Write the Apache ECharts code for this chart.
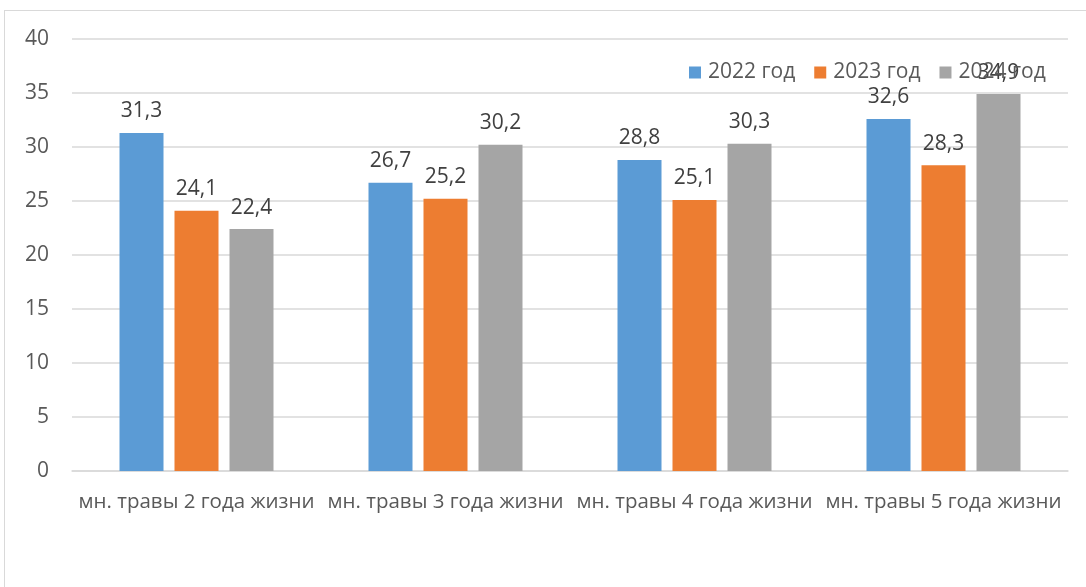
<!DOCTYPE html>
<html lang="ru">
<head>
    <meta charset="UTF-8">
    <title>Chart</title>
    <style>
        * {
            margin: 0;
            padding: 0;
        }

        html, body {
            width: 100%;
            height: 100%;
            background: #fff;
            overflow: hidden;
        }

        .frame {
            position: absolute;
            left: 4px;
            top: 10px;
            width: 1200px;
            height: 700px;
            border: 1px solid #d9d9d9;
        }

        #chart {
            position: absolute;
            left: 0;
            top: 0;
            width: 1086px;
            height: 587px;
        }
    </style>
    <script src="https://cdnjs.cloudflare.com/ajax/libs/echarts/6.0.0/echarts.min.js"></script>
</head>
<body>
<div class="frame"></div>
<div id="chart"></div>

<script>
    const categories = ["мн. травы 2 года жизни", "мн. травы 3 года жизни", "мн. травы 4 года жизни", "мн. травы 5 года жизни"]
    const seriesNames = ["2022 год", "2023 год", "2024 год"]
    const values2022 = [31.3, 26.7, 28.8, 32.6]
    const values2023 = [24.1, 25.2, 25.1, 28.3]
    const values2024 = [22.4, 30.2, 30.3, 34.9]
    const colors = ["#5b9bd5", "#ed7d31", "#a5a5a5"]

    const fontFamily = "'Open Sans', sans-serif"

    function makeSeries(name, data, color) {
        return {
            name: name,
            type: "bar",
            data: data,
            barWidth: 44,
            barGap: "25%",
            itemStyle: {color: color},
            label: {
                show: true,
                position: "top",
                distance: 11,
                color: "#404040",
                fontSize: 21,
                fontFamily: fontFamily,
                formatter: p => String(p.value).replace(".", ",")
            }
        }
    }

    let chart = echarts.init(document.getElementById("chart"))
    let option = {
        animation: false,
        legend: {
            top: 57,
            left: 684,
            itemWidth: 12,
            itemHeight: 12,
            itemGap: 19,
            icon: "rect",
            data: seriesNames,
            textStyle: {
                color: "#595959",
                fontSize: 21,
                fontFamily: fontFamily,
                padding: [0, 0, 0, 2]
            }
        },
        grid: {
            left: 72,
            right: 18,
            top: 39,
            bottom: 116
        },
        xAxis: {
            type: "category",
            data: categories,
            axisTick: {show: false},
            axisLine: {lineStyle: {color: "#d9d9d9", width: 1.5}},
            axisLabel: {
                color: "#595959",
                fontSize: 20.5,
                fontFamily: fontFamily,
                margin: 21,
                interval: 0
            }
        },
        yAxis: {
            type: "value",
            min: 0,
            max: 40,
            interval: 5,
            axisLine: {show: false},
            axisTick: {show: false},
            splitLine: {lineStyle: {color: "#d9d9d9", width: 1.5}},
            axisLabel: {
                color: "#595959",
                fontSize: 21,
                fontFamily: fontFamily,
                margin: 23
            }
        },
        series: [
            makeSeries(seriesNames[0], values2022, colors[0]),
            makeSeries(seriesNames[1], values2023, colors[1]),
            makeSeries(seriesNames[2], values2024, colors[2])
        ]
    }
    chart.setOption(option, true)
</script>
</body>
</html>
